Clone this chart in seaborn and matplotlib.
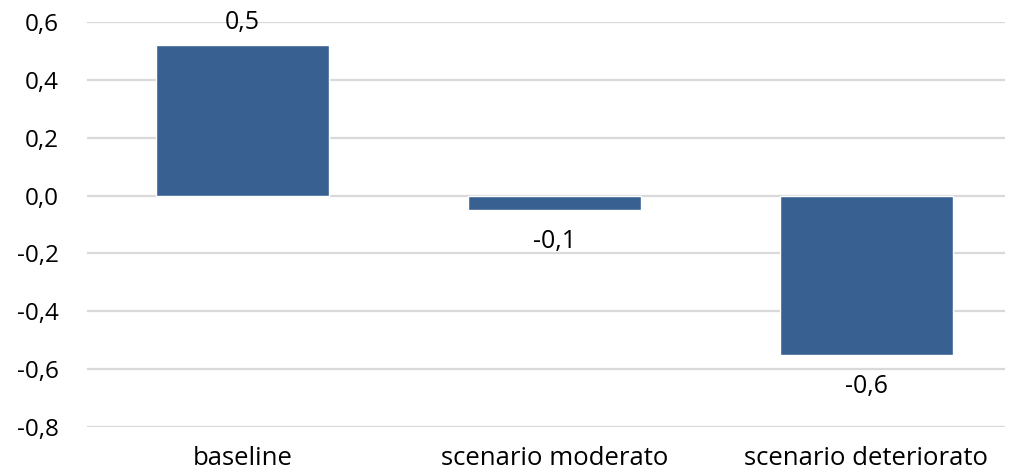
import matplotlib
matplotlib.use("Agg")
import matplotlib.pyplot as plt
import seaborn as sns
import pandas as pd

# dati
scenari = ["baseline", "scenario moderato", "scenario deteriorato"]
valori = [0.52, -0.05, -0.55]
yticks = [-0.8, -0.6, -0.4, -0.2, 0.0, 0.2, 0.4, 0.6]

df = pd.DataFrame({"scenario": scenari, "valore": valori})

sns.set_style("white")
plt.rcParams["font.family"] = ["Open Sans", "DejaVu Sans"]
plt.rcParams["text.color"] = "black"

fig = plt.figure(figsize=(10.13, 4.76), dpi=100)
ax = fig.add_axes([86.5 / 1013, 49 / 476, (1005 - 86.5) / 1013, (427 - 22) / 476])

sns.barplot(data=df, x="scenario", y="valore", color="#386192", width=0.555,
            saturation=1, ax=ax, zorder=3)

ax.set_ylim(-0.8, 0.6)
ax.set_xlim(-0.5, 2.444)
ax.set_yticks(yticks)
ax.set_yticklabels([f"{v:.1f}".replace(".", ",") for v in yticks])
ax.grid(axis="y", color="#d9d9d9", linewidth=1.6, zorder=0)
ax.set_axisbelow(True)
for s in ax.spines.values():
    s.set_visible(False)
ax.tick_params(axis="y", length=0, pad=20, labelsize=17.5, labelcolor="black")
ax.tick_params(axis="x", length=0, pad=14, labelsize=18.5, labelcolor="black")
ax.set_xlabel("")
ax.set_ylabel("")

# etichette dati
for i, v in enumerate(valori):
    off = 16.5 if v >= 0 else -23
    ax.annotate(f"{v:.1f}".replace(".", ","), (i, v), xytext=(0, off),
                textcoords="offset points", ha="center", va="center",
                fontsize=18, color="black")

fig.savefig("out.png", dpi=100)
